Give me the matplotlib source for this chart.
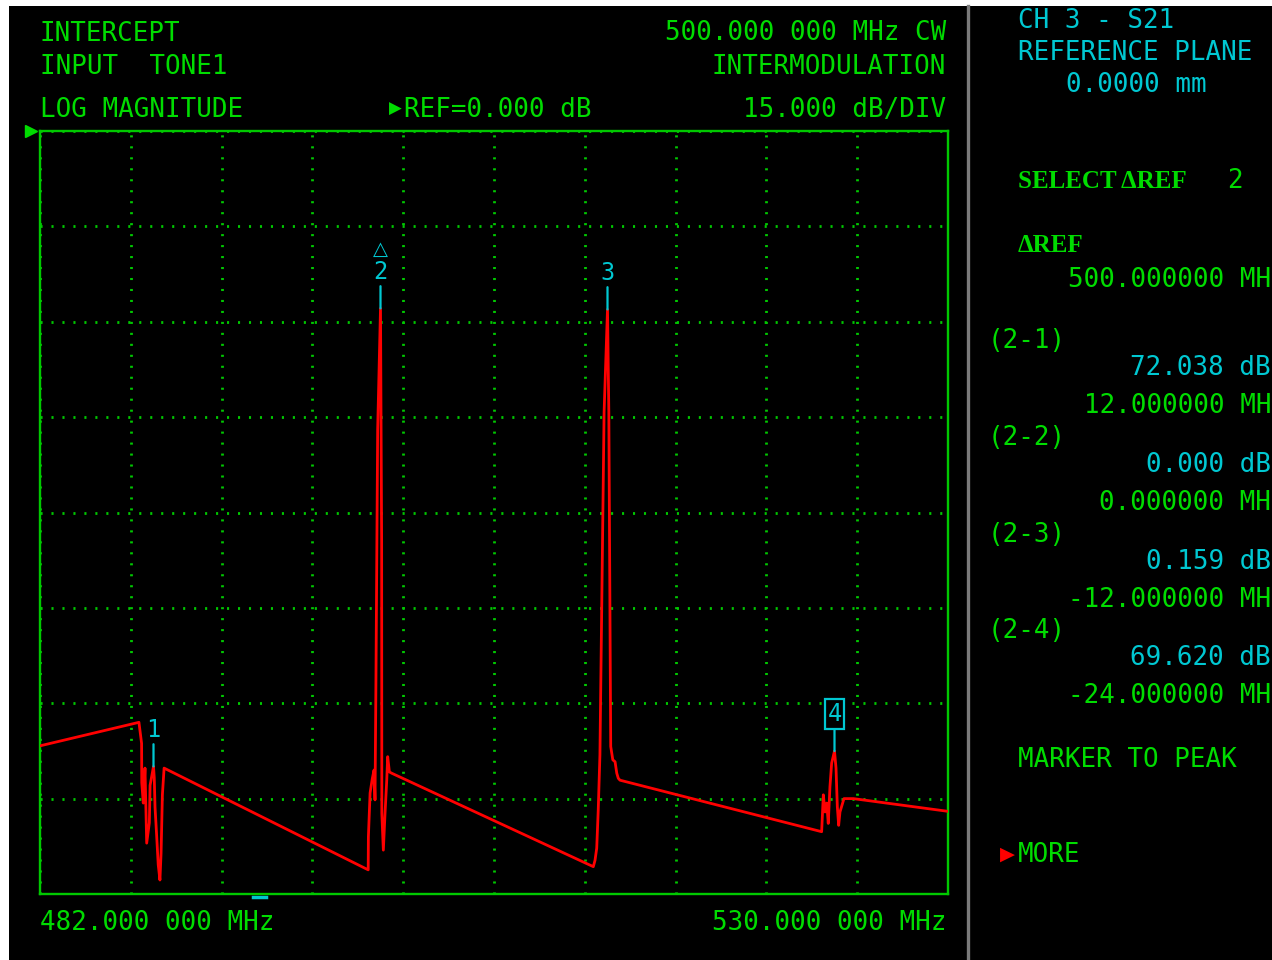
import numpy as np
import matplotlib.pyplot as plt
from matplotlib.lines import Line2D
from matplotlib.patches import Rectangle
import matplotlib.transforms as mtrans

W, H = 1272, 960

# sweep / scale settings
f_start, f_stop = 482.0, 530.0
ref_db, db_per_div = 0.0, 15.0
n_xdiv, n_ydiv = 10, 8

# marker table, all relative to the reference marker
ref_marker = 2
active_marker = 4
ref_mhz = 500.0
ref_level = -27.9
marker_ids = [1, 2, 3, 4]
delta_db = [72.038, 0.000, 0.159, 69.620]
delta_mhz = [12.0, 0.0, -12.0, -24.0]

marker_mhz = [ref_mhz - d for d in delta_mhz]
marker_db = [ref_level - d for d in delta_db]

# measured trace (marker points get merged in below)
trace_mhz = [482.00, 487.23, 487.37, 487.38, 487.46, 487.55, 487.64, 487.78, 487.82,
             488.04, 488.08, 488.17, 488.25, 488.34, 488.40, 488.47, 488.56,
             499.35, 499.36, 499.45, 499.57, 499.66, 499.71, 499.76, 499.85,
             500.06, 500.07, 500.15, 500.24, 500.33, 500.38, 500.47, 500.59,
             511.25, 511.34, 511.43, 511.51, 511.60, 511.82,
             512.07, 512.17, 512.28, 512.40, 512.49, 512.57, 512.66,
             523.32, 523.41, 523.50, 523.59, 523.67, 523.76, 523.85,
             524.08, 524.15, 524.22, 524.29, 524.40, 524.50, 525.00, 530.00]
trace_db = [-96.7, -93.0, -96.3, -102.5, -105.7, -100.2, -112.0, -108.8, -102.9,
            -101.7, -106.3, -111.0, -115.4, -117.8, -113.6, -104.4, -100.2,
            -116.2, -111.0, -104.1, -101.8, -100.5, -105.2, -86.0, -47.0,
            -64.6, -107.3, -113.1, -107.3, -102.1, -98.4, -100.8, -101.0,
            -115.7, -114.7, -112.8, -106.8, -98.1, -44.2,
            -44.2, -96.8, -98.9, -99.2, -101.0, -101.8, -102.1,
            -110.2, -104.4, -107.1, -105.7, -108.9, -103.1, -99.4,
            -100.2, -106.3, -109.2, -107.1, -106.0, -105.0, -105.0, -107.0]

cursor_mhz = 493.6

GREEN = '#00dc00'
GRID = '#00c800'
CYAN = '#00c8d2'
RED = '#ff0000'
MONO = 'DejaVu Sans Mono'
SERIF = ['Liberation Serif', 'DejaVu Serif']
FS = 18.6

fig = plt.figure(figsize=(W / 100, H / 100), dpi=100)
fig.patch.set_facecolor('white')
fig.add_artist(Rectangle((9 / W, 0), 1 - 9 / W, 1 - 6 / H, transform=fig.transFigure,
                         facecolor='black', edgecolor='none', zorder=0))
# divider between screen and softkey panel
fig.add_artist(Line2D([968 / W, 968 / W], [0, 1 - 6 / H], color='#7a7a7a', lw=2.4))


def txt(x, y, s, color=GREEN, ha='left', **kw):
    kw.setdefault('family', MONO)
    kw.setdefault('fontsize', FS)
    fig.text(x / W, 1 - y / H, s, color=color, ha=ha, va='baseline', **kw)


ax = fig.add_axes([40 / W, (H - 894) / H, 908 / W, 763 / H])
ax.set_facecolor('black')
ax.set_xlim(f_start, f_stop)
ax.set_ylim(ref_db - n_ydiv * db_per_div, ref_db)
for s in ax.spines.values():
    s.set_color(GRID)
    s.set_linewidth(1.7)
ax.set_xticks(np.linspace(f_start, f_stop, n_xdiv + 1))
ax.set_yticks(np.linspace(ref_db - n_ydiv * db_per_div, ref_db, n_ydiv + 1))
ax.tick_params(length=0, labelbottom=False, labelleft=False)
ax.grid(True, color=GRID, lw=2.0, ls=(0, (0.75, 3.2)))
ax.set_axisbelow(True)

# trace with the marker points merged in
f_all = np.array(trace_mhz + marker_mhz)
d_all = np.array(trace_db + marker_db)
order = np.argsort(f_all, kind='stable')
ax.plot(f_all[order], d_all[order], color=RED, lw=2.0, zorder=3)

# markers
for n, f, lvl in zip(marker_ids, marker_mhz, marker_db):
    ax.annotate('', xy=(f, lvl), xytext=(0, 16), textcoords='offset points',
                arrowprops=dict(arrowstyle='-', color=CYAN, lw=1.6, shrinkA=0, shrinkB=0),
                zorder=4)
    box = None
    if n == active_marker:
        box = dict(boxstyle='square,pad=0.12', facecolor='black', edgecolor=CYAN, lw=1.6)
    ax.annotate(str(n), xy=(f, lvl), xytext=(0, 26.5), textcoords='offset points',
                ha='center', va='center', color=CYAN, family=MONO, fontsize=17,
                bbox=box, zorder=5)
    if n == ref_marker:
        ax.annotate('\u25b3', xy=(f, lvl), xytext=(0, 42.5), textcoords='offset points',
                    ha='center', va='center', color=CYAN, family='DejaVu Sans',
                    fontsize=14, zorder=5)

# reference level pointer and stimulus cursor
shift = mtrans.ScaledTranslation(-9 / 100, 0, fig.dpi_scale_trans)
ax.plot([f_start], [ref_db], marker='>', ms=8, color=GREEN, clip_on=False,
        transform=ax.transData + shift)
cur = mtrans.blended_transform_factory(ax.transData, ax.transAxes)
ax.plot([cursor_mhz - 0.35, cursor_mhz + 0.35], [-0.004, -0.004], color=CYAN, lw=2.5,
        clip_on=False, transform=cur)

# header
txt(40, 41, 'INTERCEPT')
txt(40, 74, 'INPUT  TONE1')
txt(40, 117, 'LOG MAGNITUDE')
txt(389, 114, '\u25b6', family='DejaVu Sans', fontsize=12)
txt(404, 117, 'REF=%.3f dB' % ref_db)
txt(946, 40, '%.3f 000 MHz CW' % ref_mhz, ha='right')
txt(946, 74, 'INTERMODULATION', ha='right')
txt(946, 117, '%.3f dB/DIV' % db_per_div, ha='right')
txt(40, 930, '%.3f 000 MHz' % f_start)
txt(946, 930, '%.3f 000 MHz' % f_stop, ha='right')

# softkey panel
txt(1018, 28, 'CH 3 - S21', color=CYAN)
txt(1018, 60, 'REFERENCE PLANE', color=CYAN)
txt(1066, 92, '0.0000 mm', color=CYAN)
txt(1018, 188, 'SELECT \u0394REF', family=SERIF, weight='bold', fontsize=18)
txt(1227, 188, str(ref_marker))
txt(1018, 252, '\u0394REF', family=SERIF, weight='bold', fontsize=18)
txt(1271, 287, '%.6f MH' % ref_mhz, ha='right')

ys = [348, 445, 542, 638]
for n, ddb, dmhz, y in zip(marker_ids, delta_db, delta_mhz, ys):
    txt(988, y, '(%d-%d)' % (ref_marker, n))
    txt(1271, y + 27, '%.3f dB' % ddb, color=CYAN, ha='right')
    txt(1271, y + 65, '%.6f MH' % dmhz, ha='right')

txt(1018, 767, 'MARKER TO PEAK')
txt(1000, 860, '\u25b6', color=RED, family='DejaVu Sans', fontsize=14)
txt(1018, 862, 'MORE')

plt.savefig('out.png', dpi=100, facecolor=fig.get_facecolor())
